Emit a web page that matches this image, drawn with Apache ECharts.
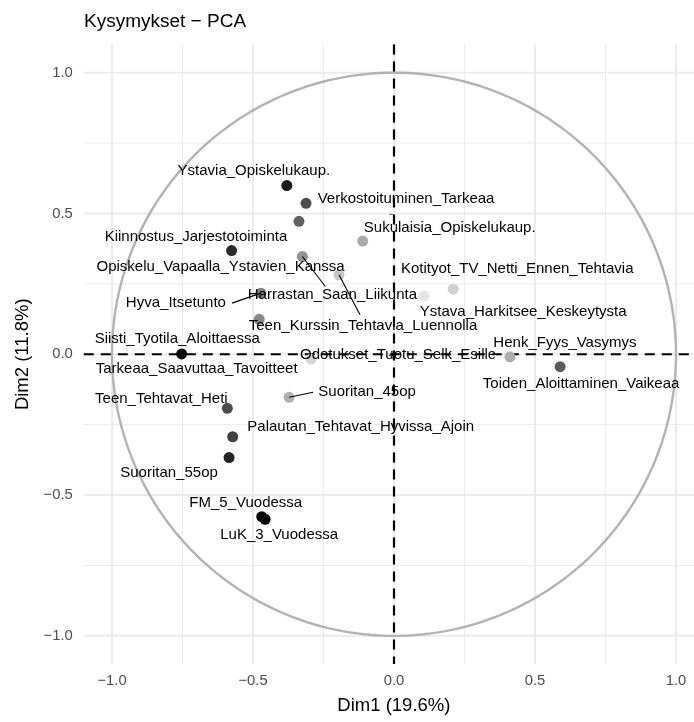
<!DOCTYPE html>
<html>
<head>
<meta charset="utf-8">
<script src="https://cdn.jsdelivr.net/npm/echarts@6/dist/echarts.min.js"></script>
<style>
  html, body { margin: 0; padding: 0; background: #ffffff; }
  #chart { width: 694px; height: 722px; }
</style>
</head>
<body>
<div id="chart"></div>
<script>
// Variable coordinates on the first two principal components
const variables = [
  'Ystavia_Opiskelukaup.', 'Verkostoituminen_Tarkeaa', 'Sukulaisia_Opiskelukaup.',
  'Kiinnostus_Jarjestotoiminta', 'Opiskelu_Vapaalla_Ystavien_Kanssa',
  'Kotityot_TV_Netti_Ennen_Tehtavia', 'Hyva_Itsetunto', 'Harrastan_Saan_Liikunta',
  'Ystava_Harkitsee_Keskeytysta', 'Teen_Kurssin_Tehtavia_Luennolla',
  'Siisti_Tyotila_Aloittaessa', 'Henk_Fyys_Vasymys', 'Odotukset_Tuotu_Selk_Esille',
  'Tarkeaa_Saavuttaa_Tavoitteet', 'Toiden_Aloittaminen_Vaikeaa', 'Teen_Tehtavat_Heti',
  'Suoritan_45op', 'Palautan_Tehtavat_Hyvissa_Ajoin', 'Suoritan_55op',
  'FM_5_Vuodessa', 'LuK_3_Vuodessa'
];
const dim1 = [-0.380, -0.312, -0.111, -0.337, -0.576, 0.210, -0.472, -0.325, 0.107, -0.195,
              -0.478, 0.411, -0.294, -0.753, 0.589, -0.591, -0.372, -0.572, -0.585, -0.469, -0.457];
const dim2 = [0.599, 0.536, 0.402, 0.472, 0.368, 0.231, 0.217, 0.347, 0.207, 0.282,
              0.124, -0.009, -0.017, 0.001, -0.044, -0.192, -0.153, -0.293, -0.367, -0.577, -0.586];

const axisTicks = [-1, -0.5, 0, 0.5, 1];
const minorTicks = [-0.75, -0.25, 0.25, 0.75];
const titleText = 'Kysymykset \u2212 PCA';
const xTitle = 'Dim1 (19.6%)';
const yTitle = 'Dim2 (11.8%)';

// Repelled label placement: pixel offset of each label centre from its point
const labelOffsets = [
  [-33, -15], [100, -4], [87, -13], [-103, 16], [-11, 16], [64, -20], [-85, 10], [30, 38],
  [99, 16], [24, 51], [-82, 20], [55, -14], [87, -4], [15, 15], [21, 17], [-66, -9],
  [78, -5], [128, -10], [-60, 15], [-16, -14], [14, 16]
];
// Leader segments (end point relative to the point) for labels pushed far away
const leaderEnds = [
  null, null, null, null, null, null, [-29, 10], [23, 30], null, [21, 40], null, null,
  null, null, null, null, [24, -5], null, null, null, null
];

const FONT = 'Liberation Sans, Arial, Helvetica, sans-serif';
const fmt = v => (v < 0 ? '\u2212' : '') + Math.abs(v).toFixed(1);

const chart = echarts.init(document.getElementById('chart'), null, { renderer: 'canvas' });

function renderBackdrop(params, api) {
  const cs = params.coordSys;
  const left = cs.x, top = cs.y, right = cs.x + cs.width, bottom = cs.y + cs.height;
  const kids = [];
  const vline = (v, style) => {
    const p = api.coord([v, 0]);
    kids.push({ type: 'line', shape: { x1: p[0], y1: top, x2: p[0], y2: bottom }, style });
  };
  const hline = (v, style) => {
    const p = api.coord([0, v]);
    kids.push({ type: 'line', shape: { x1: left, y1: p[1], x2: right, y2: p[1] }, style });
  };
  const minorStyle = { stroke: '#ebebeb', lineWidth: 1, fill: 'none' };
  const majorStyle = { stroke: '#ebebeb', lineWidth: 2, fill: 'none' };
  minorTicks.forEach(v => { vline(v, minorStyle); hline(v, minorStyle); });
  axisTicks.forEach(v => { vline(v, majorStyle); hline(v, majorStyle); });
  // unit correlation circle
  const pts = [];
  for (let k = 0; k <= 240; k++) {
    const t = k / 240 * 2 * Math.PI;
    pts.push(api.coord([Math.cos(t), Math.sin(t)]));
  }
  kids.push({ type: 'polyline', shape: { points: pts },
              style: { stroke: '#b3b3b3', lineWidth: 2.4, fill: 'none' } });
  // reference lines through the origin
  const dash = { stroke: '#000000', lineWidth: 2.2, lineDash: [10, 7], fill: 'none' };
  vline(0, dash);
  hline(0, dash);
  return { type: 'group', children: kids };
}

function renderLeaders(params, api) {
  const p = api.coord([api.value(0), api.value(1)]);
  return {
    type: 'line',
    shape: { x1: p[0], y1: p[1], x2: p[0] + api.value(2), y2: p[1] + api.value(3) },
    style: { stroke: '#000000', lineWidth: 1.1 }
  };
}

const pointData = variables.map((name, i) => ({
  name,
  value: [dim1[i], dim2[i], dim1[i] * dim1[i] + dim2[i] * dim2[i]],
  label: { offset: labelOffsets[i] }
}));

const leaderData = [];
variables.forEach((name, i) => {
  if (leaderEnds[i]) leaderData.push([dim1[i], dim2[i], leaderEnds[i][0], leaderEnds[i][1]]);
});

const option = {
  animation: false,
  backgroundColor: '#ffffff',
  title: {
    text: titleText, left: 84, top: 12, padding: 0,
    textStyle: { fontFamily: FONT, fontSize: 19, fontWeight: 'normal', color: '#000000' }
  },
  // panel runs past the right edge of the page, so the x range stops short of 1.1
  grid: { left: 83.8, top: 44.5, width: 610.2, height: 619.5, containLabel: false },
  xAxis: {
    type: 'value', min: -1.1, max: 1.0638,
    axisLine: { show: false },
    splitLine: { show: false },
    axisTick: { show: true, customValues: axisTicks, length: 5, lineStyle: { color: '#000000', width: 2 } },
    axisLabel: { customValues: axisTicks, formatter: fmt, color: '#4d4d4d', fontSize: 14.8, fontFamily: FONT, margin: 9 },
    name: xTitle, nameLocation: 'middle', nameGap: 32,
    nameTextStyle: { fontFamily: FONT, fontSize: 18.5, color: '#000000', padding: [0, 0, 0, 10] }
  },
  yAxis: {
    type: 'value', min: -1.1, max: 1.1,
    axisLine: { show: false },
    splitLine: { show: false },
    axisTick: { show: true, customValues: axisTicks, length: 5, lineStyle: { color: '#000000', width: 2 } },
    axisLabel: { customValues: axisTicks, formatter: fmt, color: '#4d4d4d', fontSize: 14.8, fontFamily: FONT, margin: 11 },
    name: yTitle, nameLocation: 'middle', nameGap: 49, nameRotate: 90,
    nameTextStyle: { fontFamily: FONT, fontSize: 18.5, color: '#000000' }
  },
  visualMap: {
    type: 'continuous', show: false, seriesIndex: 1, dimension: 2,
    min: 0.054, max: 0.567,
    inRange: { color: ['#e5e5e5', '#a6a6a6', '#6c6c6c', '#363636', '#000000'] }
  },
  series: [
    {
      type: 'custom', z: 1, silent: true, clip: false,
      data: [[0, 0]], renderItem: renderBackdrop
    },
    {
      type: 'scatter', z: 3, symbol: 'circle', symbolSize: 11,
      data: pointData,
      itemStyle: { opacity: 1 },
      label: {
        show: true, position: 'inside', formatter: '{b}',
        color: '#000000', fontSize: 15, fontFamily: FONT
      },
      emphasis: { disabled: true }
    },
    {
      type: 'custom', z: 4, silent: true,
      data: leaderData, renderItem: renderLeaders
    }
  ]
};

chart.setOption(option);
</script>
</body>
</html>
